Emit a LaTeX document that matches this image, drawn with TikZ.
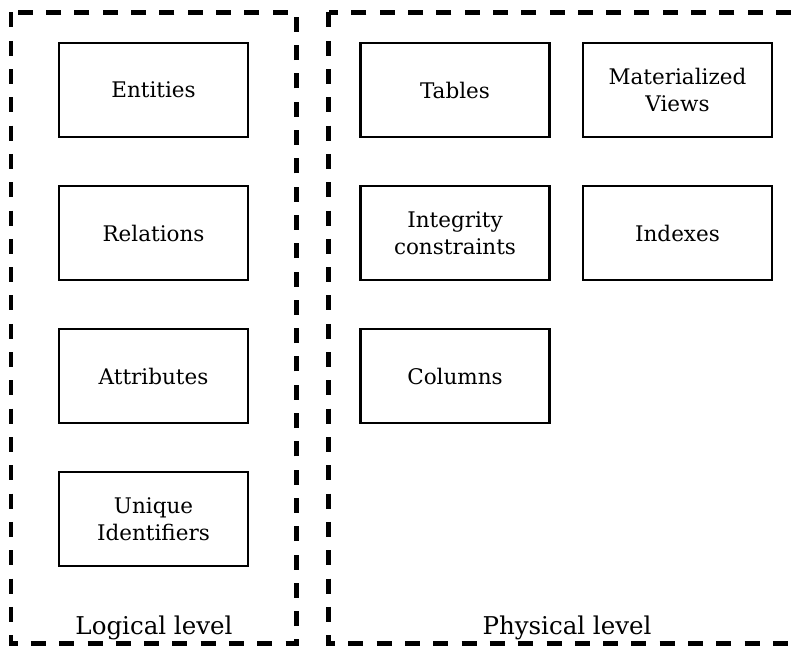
\documentclass[tikz,border=0pt]{standalone}
\usepackage{fontspec}
\setmainfont{DejaVu Serif}
\begin{document}
\begin{tikzpicture}[x=1pt,y=-1pt,
  item/.style={draw, line width=2.2pt, minimum width=189pt, minimum height=94pt,
    align=center, font=\fontsize{21.5}{26.5}\selectfont, inner sep=0pt},
  level/.style={draw, line width=4.5pt, dash pattern=on 15pt off 13.3pt},
  caption/.style={font=\fontsize{24.5}{28}\selectfont, anchor=base}]
\useasboundingbox (0,0) rectangle (793,647);
% level frames
\draw[level] (11,12.5) rectangle (296.5,643.5);
\draw[level] (328.5,12.5) rectangle (806,643.5);
\node[caption] (logical) at (154,634) {Logical level};
\node[caption] (physical) at (567,634) {Physical level};
% logical level items
\node[item] (entities) at (153.5,90) {Entities};
\node[item] (relations) at (153.5,233) {Relations};
\node[item] (attributes) at (153.5,376) {Attributes};
\node[item] (uid) at (153.5,519) {Unique\\Identifiers};
% physical level items
\node[item] (tables) at (455,90) {Tables};
\node[item] (mviews) at (677.5,90) {Materialized\\Views};
\node[item] (integrity) at (455,233) {Integrity\\constraints};
\node[item] (indexes) at (677.5,233) {Indexes};
\node[item] (columns) at (455,376) {Columns};
\end{tikzpicture}
\end{document}
